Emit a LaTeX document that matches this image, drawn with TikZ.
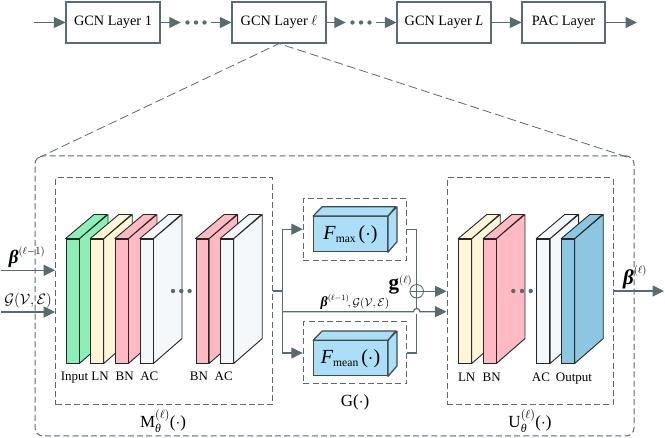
\documentclass[tikz,border=0pt]{standalone}
\usepackage{fix-cm}
\usepackage{amsmath}
\usepackage[no-math]{fontspec}
\setmainfont{Liberation Serif}
\usetikzlibrary{arrows.meta,calc}
\definecolor{linegrey}{HTML}{5A6A6E}
\definecolor{inputgreen}{HTML}{8EEEB8}
\definecolor{normcream}{HTML}{FFF5D8}
\definecolor{batchpink}{HTML}{FFBAC4}
\definecolor{activwhite}{HTML}{F5F8FA}
\definecolor{outblue}{HTML}{8CC6E0}
\definecolor{poolblue}{HTML}{ACDEF8}
\newcommand{\fsz}[1]{\fontsize{#1}{#1}\selectfont}
\newcommand{\itx}[1]{\text{\itshape #1}}
% Bold italic beta at a given size
\newcommand{\bbeta}[1]{\text{\fsz{#1}\bfseries\itshape β}}
% Subscripted block name followed by the (dot) argument
\newcommand{\poolname}[1]{\textit{F}\raisebox{-3.5pt}{\fsz{11.6}#1}\hspace{3pt}($\cdot$)}
% A module title: upright letter, theta below, layer index above, then the argument
\newcommand{\modname}[1]{$\text{#1}_{\itx{θ}}^{(\ell)}\text{(}{\cdot}\text{)}$}
% One slab of a network stack: front face is a named node, then side and top faces
\newcommand{\slab}[4]{%
  \node[slabface,fill=#4,minimum width={#3-#2}] (#1) at ({(#2+#3)/2},301) {};
  \draw[slabedge,fill=#4] (#1.north east) -- ++(28.5,-24) -- ++(0,124) -- (#1.south east) -- cycle;
  \draw[slabedge,fill=#4] (#1.north west) -- ++(28.5,-24) -- ++({#3-#2},0) -- (#1.north east) -- cycle;
}
% A pooling block drawn as a cuboid around its label
\newcommand{\cuboid}[3]{%
  \node[poolface] (#1) at (350.5,#2) {\fsz{20}#3};
  \draw[pooledge,fill=poolblue] (#1.north east) -- ++(9,-9.3) -- ++(0,35) -- (#1.south east) -- cycle;
  \draw[pooledge,fill=poolblue] (#1.north west) -- ++(9,-9.3) -- ++(73.6,0) -- (#1.north east) -- cycle;
}
% Three small dots
\newcommand{\threedots}[3]{%
  \foreach \d in {-#3,0,#3} \fill[linegrey] ($(#1)+(\d,0)$) circle[radius=#2];
}
\tikzset{
  conn/.style={draw=linegrey,line width=1.2pt},
  arr/.style={conn,-{Triangle[length=11.5pt,width=11pt,fill=linegrey]}},
  dashbox/.style={draw=linegrey,line width=1pt,dash pattern=on 6pt off 3.2pt,inner sep=0pt},
  layerbox/.style={draw=linegrey,line width=1.2pt,fill=white,minimum height=41pt,inner sep=0pt,font=\fsz{14.3}},
  slabface/.style={draw=black!85,line width=0.9pt,minimum height=124pt,inner sep=0pt},
  slabedge/.style={draw=black!85,line width=0.9pt,line join=round},
  poolface/.style={draw=linegrey!70!black,fill=poolblue,line width=1.2pt,minimum width=73.6pt,minimum height=35pt,inner sep=0pt},
  pooledge/.style={draw=linegrey!70!black,line width=1.2pt,line join=round},
  lbl/.style={inner sep=0pt,font=\fsz{13},anchor=base},
  caption/.style={inner sep=0pt,font=\fsz{15}},
  modcap/.style={inner sep=0pt,font=\fsz{17}},
  gap/.style={minimum width=30pt,minimum height=4pt,inner sep=0pt},
}
\begin{document}
\begin{tikzpicture}[x=1pt,y=-1pt]
\useasboundingbox (0,0) rectangle (665,438);

% Chain of layers along the top
\node[layerbox,minimum width=94pt] (l1) at (113,22.5) {GCN Layer 1};
\node[layerbox,minimum width=94pt] (lk) at (279,22.5) {GCN Layer $\ell$};
\node[layerbox,minimum width=94pt] (lL) at (444,22.5) {GCN Layer \textit{L}};
\node[layerbox,minimum width=83pt] (pac) at (563.5,22.5) {PAC Layer};
\coordinate (tin) at (34,22.5);
\coordinate (tout) at (637,22.5);
\node[gap] (d1) at (196,22.5) {};
\node[gap] (d2) at (361,22.5) {};
\threedots{d1}{2.2}{8.5}
\threedots{d2}{2.2}{8.5}
\draw[arr] (tin) -- (l1);
\draw[arr] (l1) -- (d1.west);
\draw[arr] (d1.east) -- (lk);
\draw[arr] (lk) -- (d2.west);
\draw[arr] (d2.east) -- (lL);
\draw[arr] (lL) -- (pac);
\draw[arr] (pac) -- (tout);

% Expansion of layer l
\node[draw=linegrey,line width=1pt,dash pattern=on 6pt off 3.2pt,rounded corners=8pt,minimum width=599pt,minimum height=280pt,inner sep=0pt] (outer) at (334.5,296) {};
\coordinate (fanL) at (38,158);
\coordinate (fanR) at (630,158);
\draw[linegrey,line width=0.8pt,dash pattern=on 9pt off 4pt] (fanL) -- (lk.south) -- (fanR);

% Left stack
\node[dashbox,minimum width=217pt,minimum height=227pt] (M) at (164.2,291.5) {};
\slab{a1}{66}{79}{inputgreen}
\slab{a2}{90.7}{103.3}{normcream}
\slab{a3}{115.3}{128}{batchpink}
\slab{a4}{140.3}{153}{activwhite}
\slab{a5}{196}{208.7}{batchpink}
\slab{a6}{220.7}{233.3}{activwhite}
\coordinate (mdots) at (181.3,291);
\threedots{mdots}{2.2}{8.3}
\node[lbl] at (74.5,381) {Input};
\node[lbl] at (100,381) {LN};
\node[lbl] at (124.7,381) {BN};
\node[lbl] at (149.3,381) {AC};
\node[lbl] at (199,381) {BN};
\node[lbl] at (223.7,381) {AC};
\node[modcap] (Mcap) at (163,421.5) {\modname{M}};

% Inputs of the left stack
\coordinate (bin) at (1,270.3);
\coordinate (gin) at (1,312);
\draw[arr] (bin) -- (bin -| M.west);
\draw[arr] (gin) -- (gin -| M.west);
\node[caption] at (27,257) {$\bbeta{19}^{(\ell-1)}$};
\node[caption] at (28,300.7) {$\mathcal{G}(\mathcal{V},\mathcal{E})$};

% Pooling branch
\node[dashbox,minimum width=103.4pt,minimum height=61.7pt] (fmaxbox) at (355,229.2) {};
\node[dashbox,minimum width=103.4pt,minimum height=62pt] (fmeanbox) at (355,353) {};
\cuboid{fmax}{234.2}{\poolname{max}}
\cuboid{fmean}{358.4}{\poolname{mean}}
\node[modcap] at (355,402) {G($\cdot$)};
\coordinate (split) at (282.3,291);
\coordinate (skip) at (282.3,311.7);
\node[draw=linegrey,line width=0.9pt,circle,minimum size=13.5pt,inner sep=0pt] (plus) at (416.7,291.3) {};
\draw[linegrey,line width=0.9pt] (plus.north) -- (plus.south) (plus.west) -- (plus.east);
\draw[conn] (M.east |- split) -- (split);
\draw[arr] (split) |- (fmaxbox.west);
\draw[arr] (split) |- (fmeanbox.west);
\draw[conn] (fmaxbox.east) -| (plus.north);
\draw[conn] (fmeanbox.east) -| (plus.south);
\node[inner sep=0pt,font=\fsz{15}] at (400.5,285) {$\text{\fsz{21}\bfseries g}^{(\ell)}$};
\node[inner sep=0pt,font=\fsz{11.5}] at (355,302) {$\bbeta{14}^{(\ell-1)}\!,\mathcal{G}(\mathcal{V},\mathcal{E})$};

% Right stack
\node[dashbox,minimum width=166pt,minimum height=227pt] (U) at (530,291.5) {};
\slab{b1}{458.7}{471.3}{normcream}
\slab{b2}{483.7}{496}{batchpink}
\slab{b3}{536.7}{549.7}{activwhite}
\slab{b4}{561.7}{574.3}{outblue}
\coordinate (udots) at (522,291);
\threedots{udots}{2.2}{8.7}
\node[lbl] at (466.7,381.5) {LN};
\node[lbl] at (491.7,381.5) {BN};
\node[lbl] at (541,381.5) {AC};
\node[lbl] at (574,381.5) {Output};
\node[modcap] at (530,421.5) {\modname{U}};

% Merged and skipped signals into the right stack
\draw[arr] (plus.east) -- (plus.east -| U.west);
\fill[white] (412.7,308) rectangle (420.7,314);
\draw[arr] (skip) -- (413.4,311.7) .. controls (413.6,307.5) and (419.8,307.5) .. (420,311.7) -- (skip -| U.west);
\draw[linegrey,line width=1.2pt] (416.7,309) -- (416.7,300);

% Output of the right stack
\coordinate (uout) at (664,291);
\draw[arr] (U.east |- uout) -- (uout);
\node[caption] at (635,277) {$\bbeta{21}^{(\ell)}$};
\end{tikzpicture}
\end{document}
